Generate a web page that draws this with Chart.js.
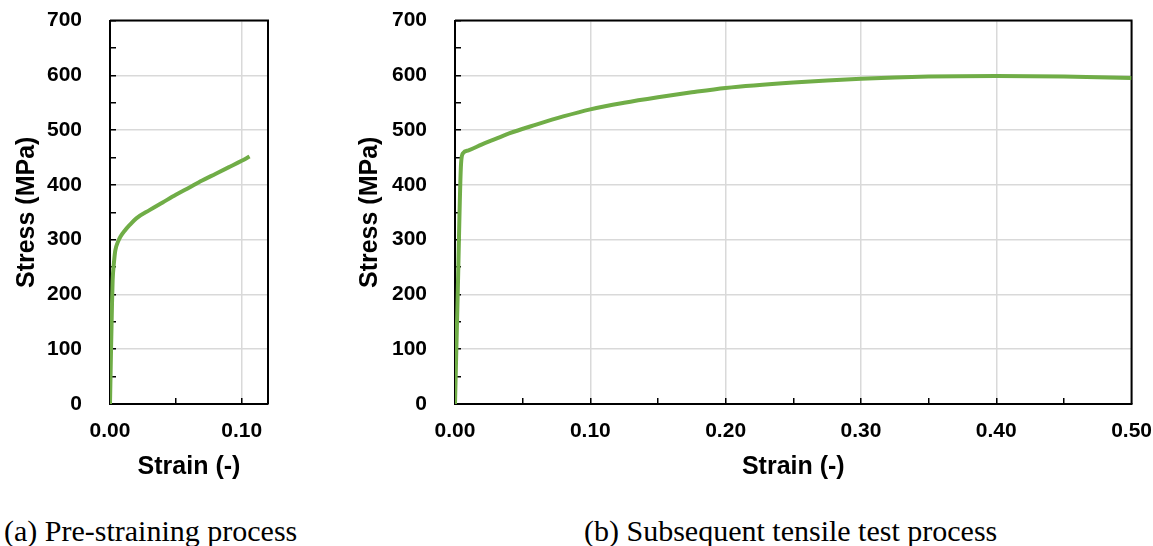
<!DOCTYPE html>
<html>
<head>
<meta charset="utf-8">
<script src="https://cdn.jsdelivr.net/npm/chart.js@4"></script>
<style>
  body { margin: 0; background: #fff; width: 1153px; height: 546px; position: relative; overflow: hidden; }
  .box { position: absolute; top: -26px; height: 516px; }
  .caption { position: absolute; top: 514px; font-family: "Liberation Serif", "Times New Roman", serif; font-size: 30px; color: #000; white-space: nowrap; }
</style>
</head>
<body>
<div class="box" style="left:0; width:290px;"><canvas id="preChart" width="290" height="516"></canvas></div>
<div class="box" style="left:350px; width:823px;"><canvas id="tensileChart" width="823" height="516"></canvas></div>
<div class="caption" style="left:4px;">(a) Pre-straining process</div>
<div class="caption" style="left:584px;">(b) Subsequent tensile test process</div>

<script>
// (a) 预应变过程
const preStrain = [0, 0.0008, 0.0015, 0.002, 0.003, 0.004, 0.006, 0.008, 0.011, 0.015, 0.02, 0.03, 0.04, 0.05, 0.06, 0.07, 0.08, 0.09, 0.1, 0.106];
const preStress = [0, 100, 180, 225, 258, 280, 296, 306, 316, 327, 339, 354, 368, 382, 395, 408, 420, 432, 444, 452];

// (b) 后续拉伸试验
const tensileStrain = [0, 0.002, 0.0045, 0.006, 0.01, 0.02, 0.03, 0.04, 0.06, 0.08, 0.1, 0.125, 0.15, 0.175, 0.2, 0.25, 0.3, 0.35, 0.4, 0.45, 0.5];
const tensileStress = [0, 200, 440, 458, 463, 474, 484, 494, 510, 525, 538, 550, 560, 569, 577, 587, 594, 598, 599, 598, 595];

const stressTicks = [0, 100, 200, 300, 400, 500, 600, 700];
const preStrainTicks = [0, 0.1];
const tensileStrainTicks = [0, 0.1, 0.2, 0.3, 0.4, 0.5];

const lineColor = '#70AD47';
const gridColor = '#d9d9d9';

function isMajor(value, list) {
  return list.some(t => Math.abs(t - value) < 1e-6);
}

// 画上边框和右边框
const framePlugin = {
  id: 'frame',
  beforeDatasetsDraw(chart) {
    const { ctx, chartArea } = chart;
    ctx.save();
    ctx.strokeStyle = '#000';
    ctx.lineWidth = 2;
    ctx.beginPath();
    ctx.moveTo(chartArea.left, chartArea.top);
    ctx.lineTo(chartArea.right, chartArea.top);
    ctx.lineTo(chartArea.right, chartArea.bottom);
    ctx.stroke();
    ctx.restore();
  }
};

function makeChart(canvasId, strain, stress, xMax, xTicks, opts) {
  const ctx = document.getElementById(canvasId).getContext('2d');
  const tickFont = { family: 'Liberation Sans, Arial, sans-serif', size: 21, weight: 'bold' };
  const titleFont = { family: 'Liberation Sans, Arial, sans-serif', size: 25, weight: 'bold' };
  return new Chart(ctx, {
    type: 'scatter',
    data: {
      datasets: [{
        data: strain.map((x, i) => ({ x: x, y: stress[i] })),
        showLine: true,
        borderColor: lineColor,
        borderWidth: 4,
        pointRadius: 0,
        cubicInterpolationMode: 'monotone'
      }]
    },
    options: {
      responsive: false,
      animation: false,
      layout: { padding: { top: 0, right: opts.right, left: 0, bottom: 0 } },
      plugins: { legend: { display: false }, tooltip: { enabled: false } },
      scales: {
        x: {
          type: 'linear',
          min: 0,
          max: xMax,
          afterFit: s => { s.height = 86; },
          afterBuildTicks: s => {
            const t = [];
            for (let k = 0; k * 0.05 <= xMax + 1e-9; k++) t.push({ value: Math.round(k * 5) / 100 });
            if (!isMajor(xMax, t.map(v => v.value))) t.push({ value: xMax });
            s.ticks = t;
          },
          ticks: {
            autoSkip: false,
            maxRotation: 0,
            padding: 21,
            color: '#000',
            font: tickFont,
            callback: v => isMajor(v, xTicks) ? v.toFixed(2) : ''
          },
          grid: {
            color: c => (c.tick && isMajor(c.tick.value, xTicks)) ? gridColor : 'rgba(0,0,0,0)',
            lineWidth: 1.5,
            tickLength: -6,
            tickColor: c => (c.tick && Math.abs(c.tick.value - xMax) > 1e-6 && isMajor(c.tick.value * 20, [Math.round(c.tick.value * 20)])) ? '#000' : 'rgba(0,0,0,0)',
            tickWidth: 1.5
          },
          border: { color: '#000', width: 2 },
          title: {
            display: true,
            text: 'Strain (-)',
            color: '#000',
            font: titleFont,
            padding: { top: 0, bottom: 8 }
          }
        },
        y: {
          min: 0,
          max: 700,
          afterFit: s => { s.width = opts.yWidth; },
          ticks: {
            stepSize: 50,
            autoSkip: false,
            padding: 34,
            color: '#000',
            font: tickFont,
            callback: v => isMajor(v, stressTicks) ? String(v) : ''
          },
          grid: {
            color: c => (c.tick && isMajor(c.tick.value, stressTicks)) ? gridColor : 'rgba(0,0,0,0)',
            lineWidth: 1.5,
            tickLength: -6,
            tickColor: '#000',
            tickWidth: 1.5
          },
          border: { color: '#000', width: 2 },
          title: {
            display: true,
            text: 'Stress (MPa)',
            color: '#000',
            font: titleFont,
            padding: { top: opts.titlePad, bottom: 0 }
          }
        }
      }
    },
    plugins: [framePlugin]
  });
}

makeChart('preChart', preStrain, preStress, 0.12, preStrainTicks, { right: 22, yWidth: 110, titlePad: 12 });
makeChart('tensileChart', tensileStrain, tensileStress, 0.5, tensileStrainTicks, { right: 2, yWidth: 105, titlePad: 5 });
</script>
</body>
</html>
